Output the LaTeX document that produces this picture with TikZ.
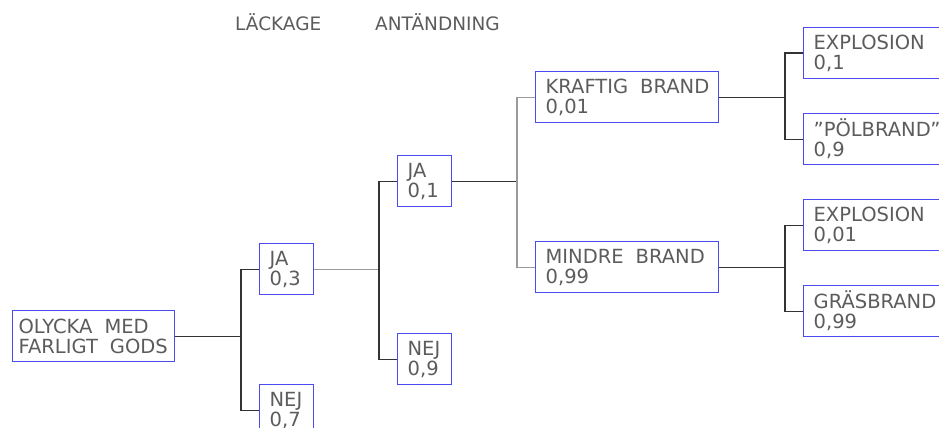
\documentclass[tikz,border=0pt]{standalone}
\usepackage{fontspec}
\setmainfont{DejaVu Sans}
\definecolor{boxblue}{HTML}{4B4BF2}
\definecolor{txt}{HTML}{5C5C5C}
\definecolor{ln}{HTML}{333333}
\definecolor{lnl}{HTML}{9A9A9A}
\newcommand\wsp{\hspace*{12pt}}
\begin{document}
\begin{tikzpicture}[x=1pt,y=-1pt,
  box/.style={draw=boxblue,line width=1.3pt,anchor=north west,minimum height=51pt,
    inner xsep=10pt,inner ysep=0pt,align=left,text=txt,
    font=\fontsize{19.5}{20}\selectfont},
  conn/.style={draw=ln,line width=1.3pt},
  connl/.style={draw=lnl,line width=1.3pt},
  head/.style={text=txt,anchor=base west,inner sep=0pt,font=\fontsize{18.5}{20}\selectfont}]
\useasboundingbox (0,0) rectangle (939,428);
\clip (0,0) rectangle (939,428);

% headers
\node[head] (h1) at (235,31) {LÄCKAGE};
\node[head] (h2) at (375,31) {ANTÄNDNING};

% boxes
\node[box,inner xsep=6pt,text width=150pt] (root) at (12,310) {\mbox{OLYCKA\wsp MED}\\\mbox{FARLIGT\wsp GODS}};
\node[box,text width=34pt] (ja1) at (259,243) {JA\\0,3};
\node[box,text width=34pt] (nej1) at (259,384) {NEJ\\0,7};
\node[box,text width=34pt] (ja2) at (397,155) {JA\\0,1};
\node[box,text width=34pt] (nej2) at (397,333) {NEJ\\0,9};
\node[box,inner xsep=10pt,text width=163pt] (kb) at (535,71) {\mbox{KRAFTIG\wsp BRAND}\\0,01};
\node[box,inner xsep=10pt,text width=163pt] (mb) at (535,241) {\mbox{MINDRE\wsp BRAND}\\0,99};
\node[box,text width=130pt] (e1) at (803,27) {EXPLOSION\\0,1};
\node[box,text width=130pt] (p1) at (803,113) {''PÖLBRAND''\\0,9};
\node[box,text width=130pt] (e2) at (803,199) {EXPLOSION\\0,01};
\node[box,text width=130pt] (g1) at (803,285) {GRÄSBRAND\\0,99};

% junction columns
\coordinate (j1) at (241,0);
\coordinate (j2) at (379,0);
\coordinate (j3) at (517,0);
\coordinate (j4) at (785,0);

% connectors
\draw[conn] (root.east) -- (j1 |- root.east);
\draw[conn] (ja1.west) -| (j1 |- root.east) |- (nej1.west);

\draw[connl] (ja1.east) -- (j2 |- ja1.east);
\draw[conn] (ja2.west) -| (j2 |- ja1.east) |- (nej2.west);

\draw[conn] (ja2.east) -- (j3 |- ja2.east);
\draw[connl] (kb.west) -| (j3 |- ja2.east) |- (mb.west);

\draw[conn] (kb.east) -- (j4 |- kb.east);
\draw[conn] (e1.west) -| (j4 |- kb.east) |- (p1.west);

\draw[conn] (mb.east) -- (j4 |- mb.east);
\draw[conn] (e2.west) -| (j4 |- mb.east) |- (g1.west);
\end{tikzpicture}
\end{document}
